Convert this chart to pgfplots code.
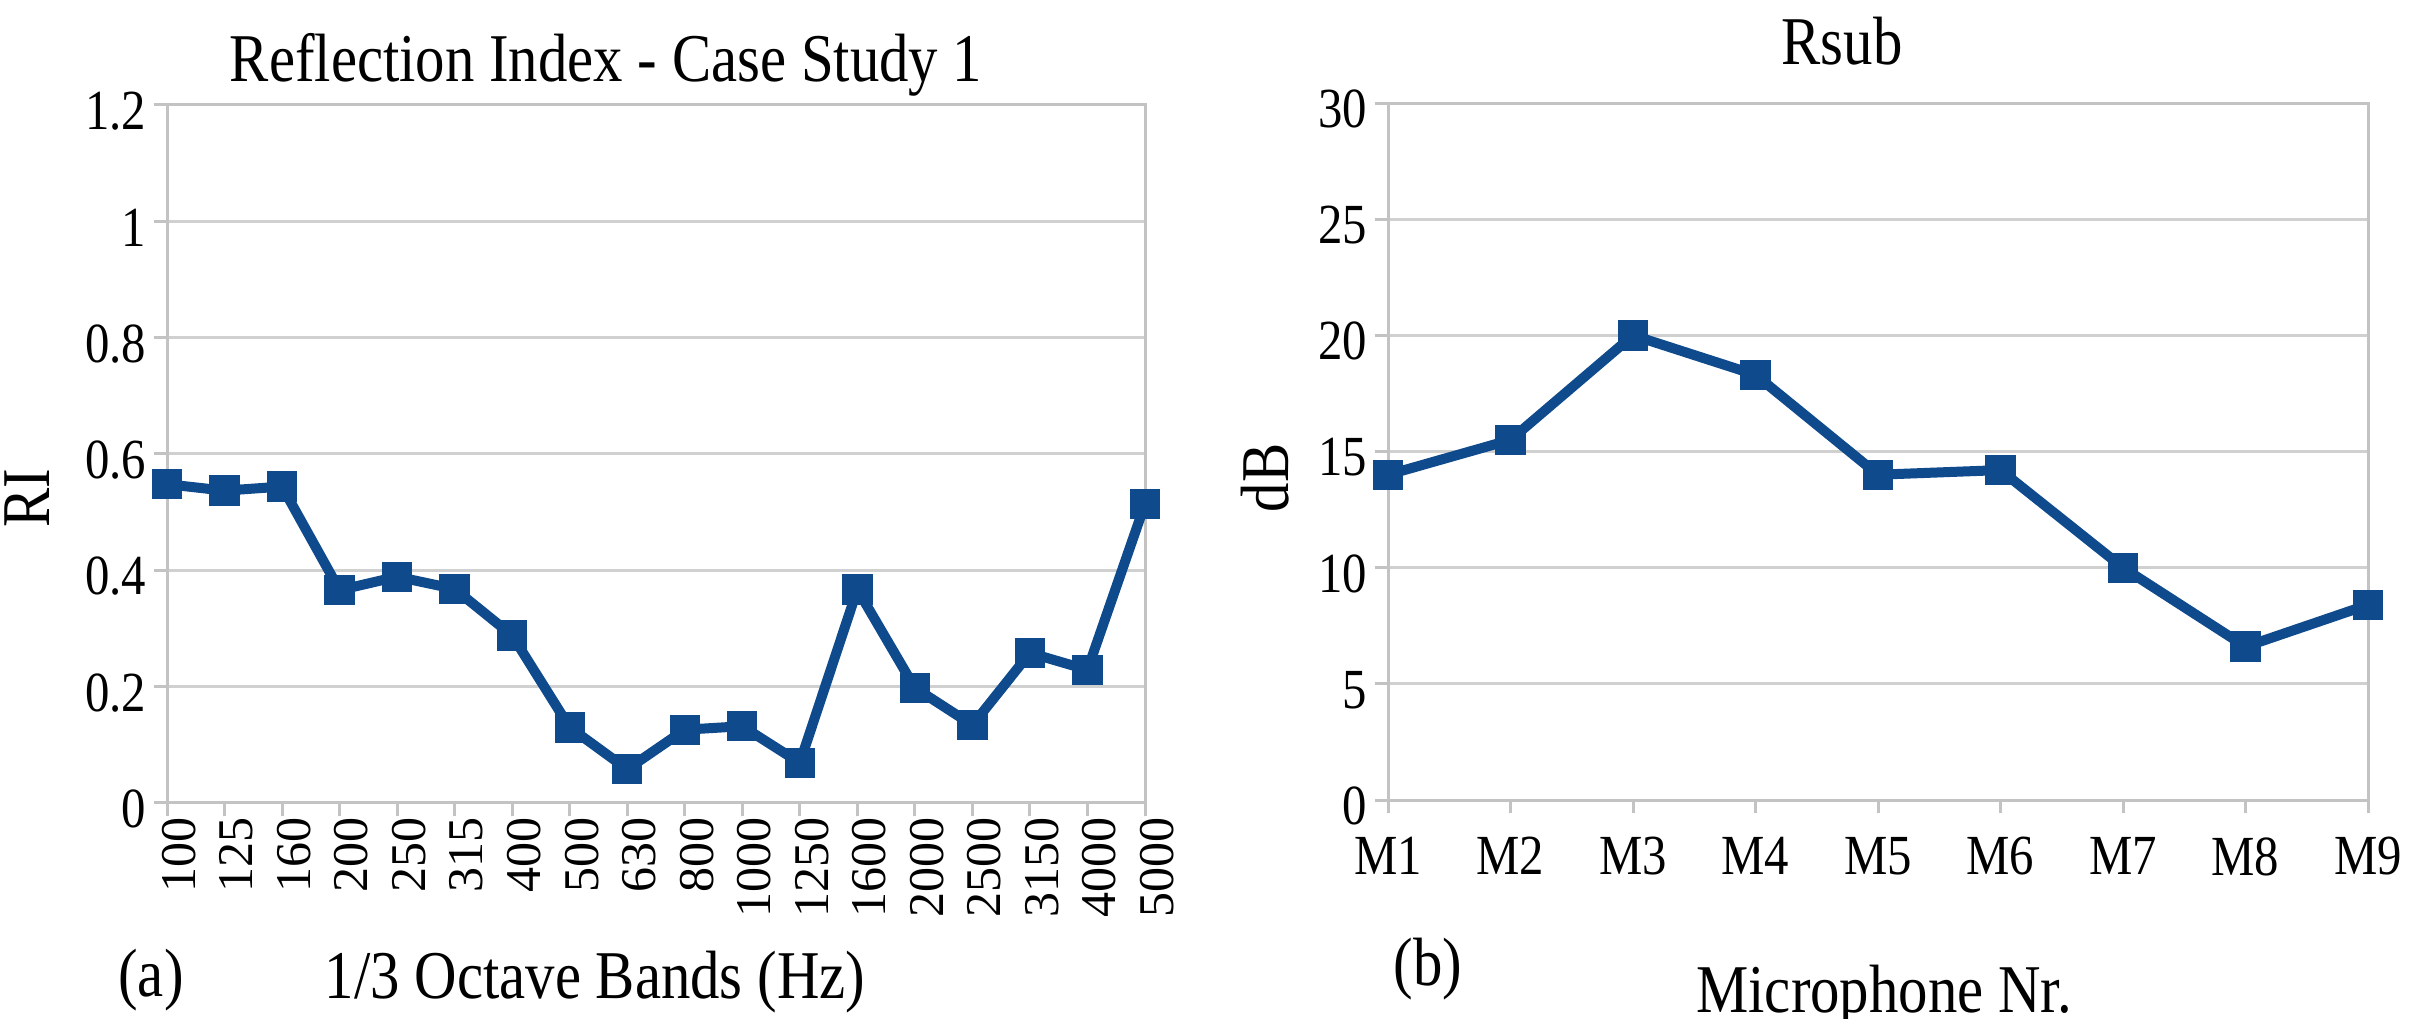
\documentclass[border=0pt]{standalone}
\usepackage{fontspec}
\setmainfont{Liberation Serif}[FakeStretch=0.86]
\newfontfamily\rotfont{Liberation Serif}
\usepackage{pgfplots}
\pgfplotsset{compat=1.18}
\definecolor{lineblue}{RGB}{14,74,140}
\definecolor{gridgray}{RGB}{208,208,208}
\definecolor{framegray}{RGB}{195,195,195}
\pgfplotsset{
  mystyle/.style={
    scale only axis,
    clip=false,
    axis line style={framegray, line width=0.9pt},
    ymajorgrids,
    major grid style={gridgray, line width=0.9pt},
    tick style={framegray, line width=0.9pt},
    tick align=outside,
    major tick length=4pt,
    tick pos=left,
    /pgf/number format/assume math mode=true,
    yticklabel style={font=\fontsize{17}{20}\selectfont, anchor=east, inner sep=0pt, xshift=-2pt, yshift=-1.8pt},
  },
  myplot/.style={color=lineblue, line width=3pt, mark=square*, mark size=4.4pt,
      mark options={solid, fill=lineblue, draw=lineblue, line width=0pt}},
}
\pgfplotstableread{
x y
0 0.548
1 0.537
2 0.544
3 0.366
4 0.389
5 0.368
6 0.288
7 0.130
8 0.058
9 0.126
10 0.132
11 0.069
12 0.367
13 0.198
14 0.134
15 0.258
16 0.229
17 0.514
}\ritable
\pgfplotstableread{
x y
0 14.0
1 15.5
2 20.0
3 18.3
4 14.0
5 14.2
6 10.0
7 6.6
8 8.4
}\rsubtable
\begin{document}
\begin{tikzpicture}
\path[use as bounding box] (0,0) rectangle (723pt,305.4pt);
\begin{axis}[mystyle,
  at={(50.1pt,64.5pt)}, anchor=south west,
  width=293.4pt, height=209.4pt,
  xmin=0, xmax=17, ymin=0, ymax=1.2,
  ytick={0,0.2,0.4,0.6,0.8,1,1.2},
  yticklabels={0,0.2,0.4,0.6,0.8,1,1.2},
  xtick={0,...,17},
  xticklabels={100,125,160,200,250,315,400,500,630,800,1000,1250,1600,2000,2500,3150,4000,5000},
  xticklabel style={rotate=90, anchor=east, inner sep=0pt, yshift=-3.6pt, font=\rotfont\fontsize{15}{18}\selectfont},
]
\addplot[myplot] table[x=x,y=y] {\ritable};
\end{axis}
\begin{axis}[mystyle,
  at={(416.4pt,65.4pt)}, anchor=south west,
  width=294pt, height=209.1pt,
  xmin=0, xmax=8, ymin=0, ymax=30,
  ytick={0,5,10,15,20,25,30},
  xtick={0,...,8},
  xticklabels={M1,M2,M3,M4,M5,M6,M7,M8,M9},
  xticklabel style={anchor=north, inner sep=0pt, yshift=-7pt, font=\fontsize{17}{20}\selectfont},
]
\addplot[myplot] table[x=x,y=y] {\rsubtable};
\end{axis}
\begin{scope}[every node/.style={inner sep=0pt, font=\fontsize{20.5}{24}\selectfont}]
\node[anchor=base] at (181.8pt,280.8pt) {Reflection Index - Case Study 1};
\node[anchor=base] at (552.6pt,285.9pt) {Rsub};
\node[anchor=base] at (178.5pt,6.0pt) {1/3 Octave Bands (Hz)};
\node[anchor=base] at (45.3pt,6.6pt) {(a)};
\node[anchor=base] at (428.4pt,9.9pt) {(b)};
\node[anchor=base] at (565.2pt,1.8pt) {Microphone Nr.};
\node[rotate=90] at (8pt,156pt) {RI};
\node[rotate=90] at (379.5pt,162pt) {dB};
\end{scope}
\end{tikzpicture}
\end{document}
